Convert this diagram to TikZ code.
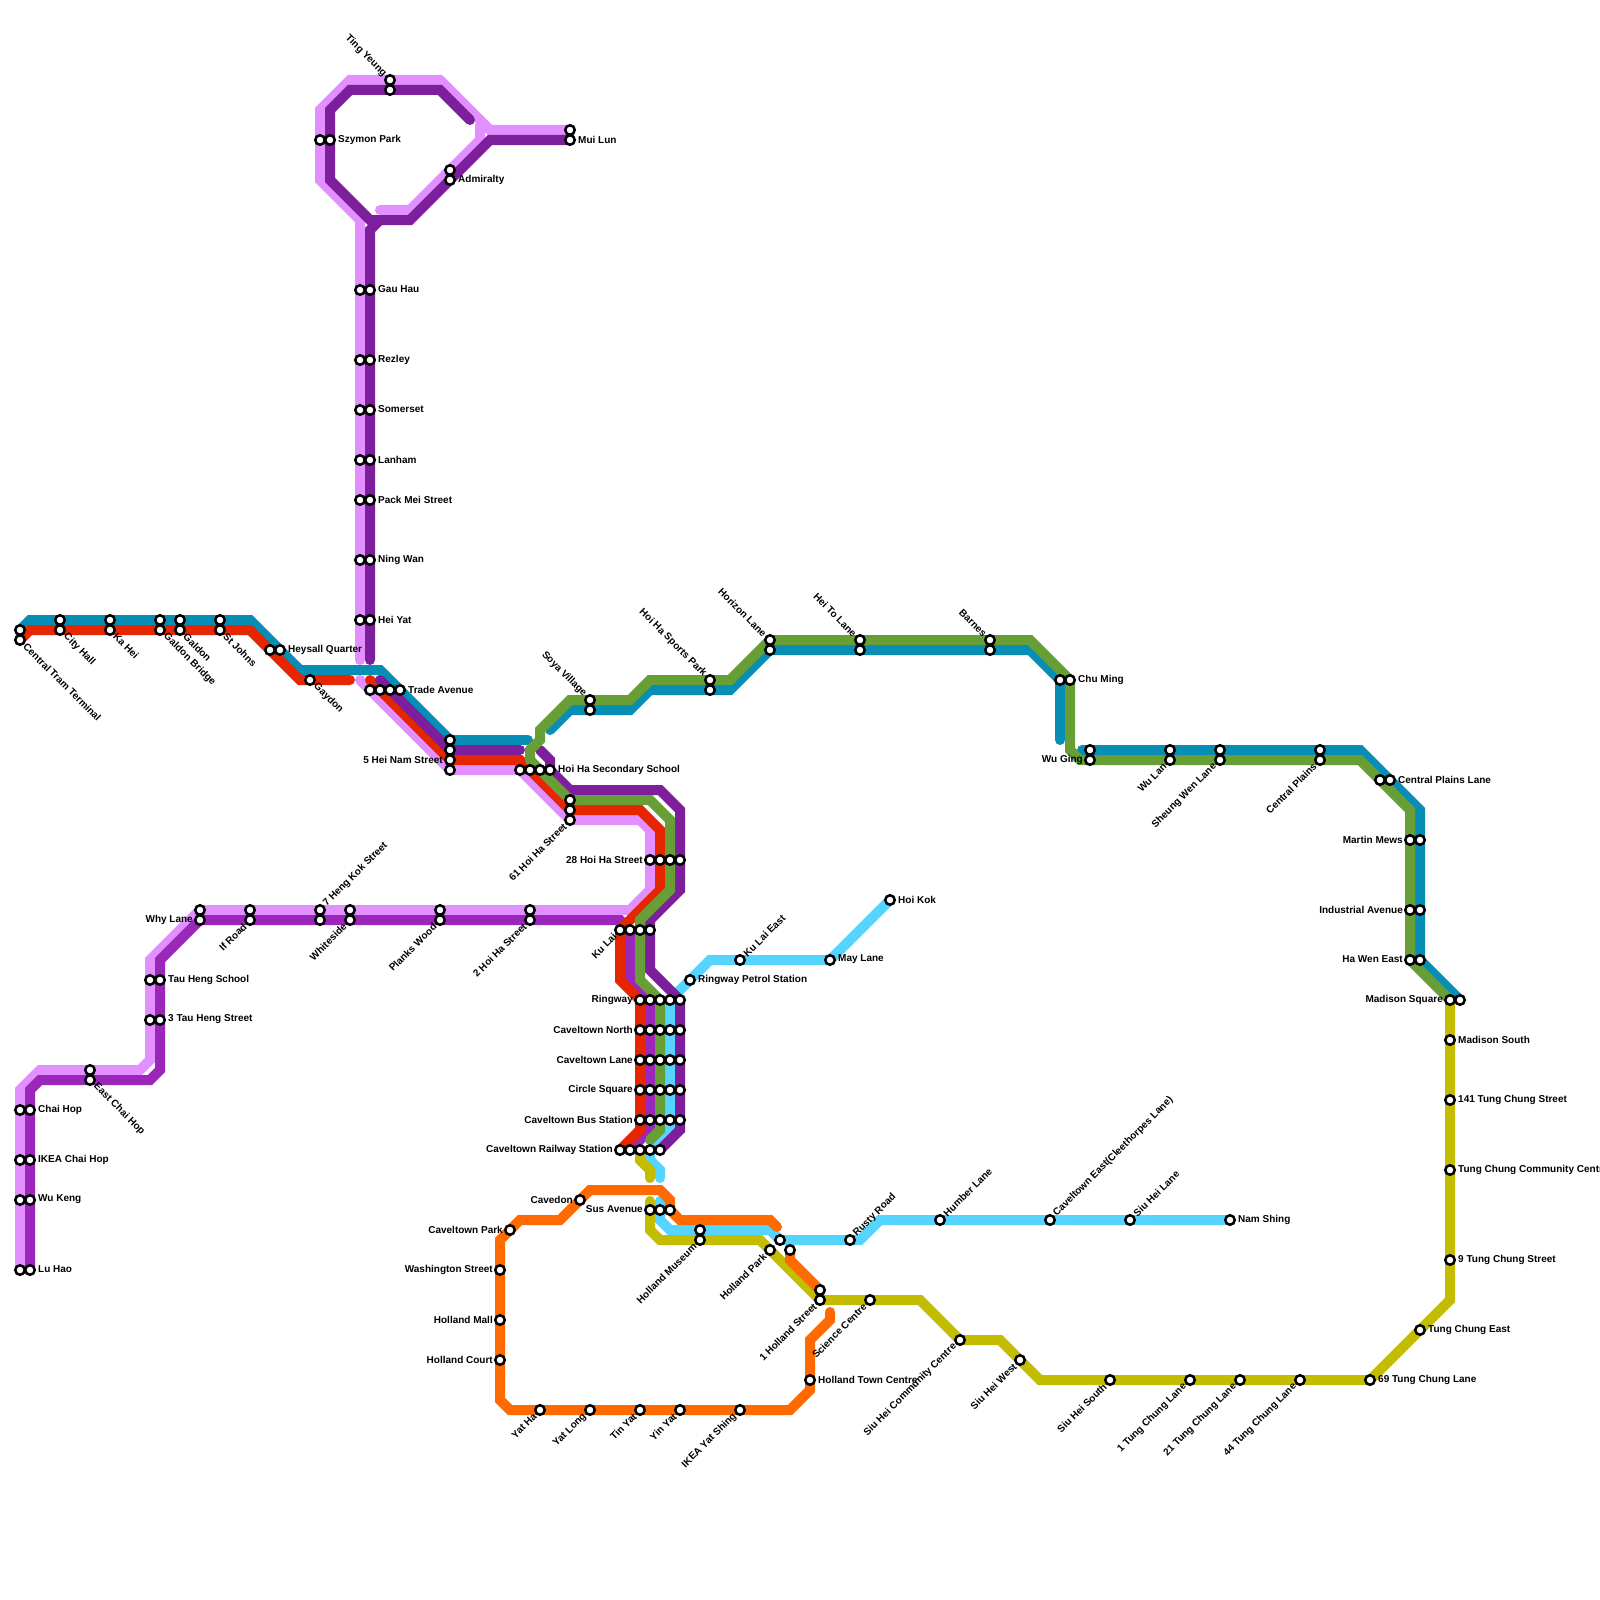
\documentclass[tikz,border=0pt]{standalone}
\usepackage{fontspec}
\setmainfont{Liberation Sans}
\definecolor{lineteal}{HTML}{088DB5}
\definecolor{linered}{HTML}{E62600}
\definecolor{linepink}{HTML}{E290FF}
\definecolor{linedark}{HTML}{7D1F9C}
\definecolor{linemid}{HTML}{9A27BA}
\definecolor{linegreen}{HTML}{679E36}
\definecolor{linecyan}{HTML}{55D4FF}
\definecolor{lineolive}{HTML}{C4BC00}
\definecolor{lineorange}{HTML}{FF6A00}

\begin{document}
\begin{tikzpicture}[x=1pt,y=-1pt,font=\fontsize{10}{11}\selectfont\bfseries,
    rail/.style={line width=10pt,line cap=round},
    stn/.style={circle,draw=black,fill=white,line width=2.5pt,minimum size=9.5pt,inner sep=0pt},
    lbr/.style={anchor=west,inner sep=0pt,xshift=8pt,yshift=0.5pt},
    lbl/.style={anchor=east,inner sep=0pt,xshift=-7pt,yshift=0.5pt},
    ldr/.style={anchor=west,inner sep=0pt,xshift=5pt,yshift=-5pt,rotate=-45},
    lul/.style={anchor=east,inner sep=0pt,xshift=-5pt,yshift=5pt,rotate=-45},
    lur/.style={anchor=west,inner sep=0pt,xshift=5pt,yshift=5pt,rotate=45},
    ldl/.style={anchor=east,inner sep=0pt,xshift=-5pt,yshift=-5pt,rotate=45}]
    \useasboundingbox (0,0) rectangle (1600,1600);

    % teal
    \draw[rail,lineteal] (20,630) -- (30,620) -- (250,620) -- (300,670) -- (380,670) -- (450,740) -- (528,740);
    \draw[rail,lineteal] (550,730) -- (570,710) -- (630,710) -- (650,690) -- (730,690) -- (770,650) -- (1030,650) -- (1060,680) -- (1060,740);
    \draw[rail,lineteal] (1082,750) -- (1360,750) -- (1420,810) -- (1420,960) -- (1460,1000);

    % light pink
    \draw[rail,linepink] (360,660) -- (360,220) -- (320,180) -- (320,110) -- (350,80) -- (440,80) -- (490,130) -- (570,130);
    \draw[rail,linepink] (380,210) -- (410,210) -- (480,140) -- (480,125);
    \draw[rail,linepink] (360,680) -- (450,770) -- (520,770) -- (570,820) -- (640,820) -- (650,830) -- (650,890) -- (630,910)
      -- (200,910) -- (150,960) -- (150,1060) -- (140,1070) -- (40,1070) -- (20,1090) -- (20,1270);

    % cyan
    \draw[rail,linecyan] (890,900) -- (830,960) -- (710,960) -- (670,1000) -- (670,1130) -- (650,1150) -- (650,1160) -- (660,1170) -- (660,1178);
    \draw[rail,linecyan] (660,1201) -- (660,1220) -- (670,1230) -- (770,1230) -- (780,1240) -- (860,1240) -- (880,1220) -- (1230,1220);

    % mid purple
    \draw[rail,linemid] (30,1270) -- (30,1090) -- (40,1080) -- (150,1080) -- (160,1070) -- (160,960) -- (200,920) -- (620,920)
      -- (630,930) -- (630,980) -- (650,1000) -- (650,1130) -- (630,1150);

    % red
    \draw[rail,linered] (20,640) -- (30,630) -- (250,630) -- (300,680) -- (350,680);
    \draw[rail,linered] (370,680) -- (450,760) -- (520,760) -- (570,810) -- (640,810) -- (660,830) -- (660,890) -- (620,930)
      -- (620,980) -- (640,1000) -- (640,1130) -- (620,1150);

    % dark purple
    \draw[rail,linedark] (470,120) -- (440,90) -- (350,90) -- (330,110) -- (330,180) -- (370,220) -- (410,220) -- (490,140) -- (570,140);
    \draw[rail,linedark] (370,660) -- (370,230) -- (380,220);
    \draw[rail,linedark] (380,680) -- (450,750) -- (520,750);
    \draw[rail,linedark] (540,750) -- (550,760) -- (550,770) -- (570,790) -- (660,790) -- (680,810) -- (680,890) -- (650,920)
      -- (650,970) -- (680,1000) -- (680,1130) -- (660,1150);

    % green
    \draw[rail,linegreen] (530,760) -- (530,750) -- (540,740) -- (540,730) -- (570,700) -- (630,700) -- (650,680) -- (730,680)
      -- (770,640) -- (1030,640) -- (1070,680) -- (1070,750) -- (1080,760) -- (1360,760) -- (1410,810) -- (1410,960) -- (1450,1000);
    \draw[rail,linegreen] (530,760) -- (570,800) -- (650,800) -- (670,820) -- (670,890) -- (640,920) -- (640,980) -- (660,1000)
      -- (660,1130) -- (650,1140);

    % olive
    \draw[rail,lineolive] (640,1150) -- (640,1160) -- (650,1170) -- (650,1178);
    \draw[rail,lineolive] (650,1201) -- (650,1230) -- (660,1240) -- (760,1240) -- (820,1300) -- (920,1300) -- (960,1340) -- (1000,1340)
      -- (1040,1380) -- (1370,1380) -- (1450,1300) -- (1450,1005);

    % orange
    \draw[rail,lineorange] (777,1227) -- (770,1220) -- (680,1220) -- (670,1210) -- (670,1200) -- (660,1190) -- (590,1190) -- (560,1220)
      -- (520,1220) -- (500,1240) -- (500,1400) -- (510,1410) -- (790,1410) -- (810,1390) -- (810,1340) -- (830,1320) -- (830,1312);
    \draw[rail,lineorange] (790,1250) -- (790,1260) -- (820,1290);

    % stations
    \foreach \x/\y in {20/630,20/640,60/620,60/630,110/620,110/630,160/620,160/630,180/620,180/630,220/620,220/630,
      270/650,280/650,310/680,370/690,380/690,390/690,400/690,450/740,450/750,450/760,450/770,
      520/770,530/770,540/770,550/770,570/800,570/810,570/820,650/860,660/860,670/860,680/860,
      390/80,390/90,320/140,330/140,450/170,450/180,570/130,570/140,
      200/910,200/920,250/910,250/920,320/910,320/920,350/910,350/920,440/910,440/920,530/910,530/920,
      620/930,630/930,640/930,650/930,150/980,160/980,150/1020,160/1020,90/1070,90/1080,
      590/700,590/710,710/680,710/690,770/640,770/650,860/640,860/650,990/640,990/650,
      1060/680,1070/680,1090/750,1090/760,1170/750,1170/760,1220/750,1220/760,1320/750,1320/760,
      1380/780,1390/780,1410/840,1420/840,1410/910,1420/910,1410/960,1420/960,1450/1000,1460/1000,
      690/980,740/960,830/960,890/900,620/1150,630/1150,640/1150,650/1150,660/1150,
      580/1200,650/1210,660/1210,670/1210,510/1230,500/1270,500/1320,500/1360,
      540/1410,590/1410,640/1410,680/1410,740/1410,810/1380,700/1230,700/1240,770/1250,780/1240,790/1250,
      820/1290,820/1300,870/1300,850/1240,940/1220,1050/1220,1130/1220,1230/1220,
      960/1340,1020/1360,1110/1380,1190/1380,1240/1380,1300/1380,1370/1380,1420/1330,
      1450/1040,1450/1100,1450/1170,1450/1260}
      \node[stn] (s\x-\y) at (\x,\y) {};
    \foreach \y in {290,360,410,460,500,560,620}
      \foreach \x in {360,370}
        \node[stn] (s\x-\y) at (\x,\y) {};
    \foreach \y in {1110,1160,1200,1270}
      \foreach \x in {20,30}
        \node[stn] (s\x-\y) at (\x,\y) {};
    \foreach \y in {1000,1030,1060,1090,1120}
      \foreach \x in {640,650,660,670,680}
        \node[stn] (s\x-\y) at (\x,\y) {};

    % labels to the right
    \foreach \x/\y/\lab in {280/650/Heysall Quarter,400/690/Trade Avenue,550/770/Hoi Ha Secondary School,
      330/140/Szymon Park,450/180/Admiralty,570/140/Mui Lun,370/290/Gau Hau,370/360/Rezley,370/410/Somerset,
      370/460/Lanham,370/500/Pack Mei Street,370/560/Ning Wan,370/620/Hei Yat,160/980/Tau Heng School,
      160/1020/3 Tau Heng Street,30/1110/Chai Hop,30/1160/IKEA Chai Hop,30/1200/Wu Keng,30/1270/Lu Hao,
      1070/680/Chu Ming,1390/780/Central Plains Lane,690/980/Ringway Petrol Station,830/960/May Lane,890/900/Hoi Kok,
      1230/1220/Nam Shing,810/1380/Holland Town Centre,1450/1040/Madison South,1450/1100/141 Tung Chung Street,
      1450/1170/Tung Chung Community Centre,1450/1260/9 Tung Chung Street,1420/1330/Tung Chung East,1370/1380/69 Tung Chung Lane}
      \node[lbr] (t\x-\y) at (s\x-\y) {\lab};

    % labels to the left
    \foreach \x/\y/\lab in {450/760/5 Hei Nam Street,200/920/Why Lane,650/860/28 Hoi Ha Street,640/1000/Ringway,
      640/1030/Caveltown North,640/1060/Caveltown Lane,640/1090/Circle Square,640/1120/Caveltown Bus Station,
      620/1150/Caveltown Railway Station,580/1200/Cavedon,650/1210/Sus Avenue,510/1230/Caveltown Park,
      500/1270/Washington Street,500/1320/Holland Mall,500/1360/Holland Court,1090/760/Wu Ging,1410/840/Martin Mews,
      1410/910/Industrial Avenue,1410/960/Ha Wen East,1450/1000/Madison Square}
      \node[lbl] (t\x-\y) at (s\x-\y) {\lab};

    % slanted labels
    \foreach \x/\y/\lab in {20/640/Central Tram Terminal,60/630/City Hall,110/630/Ka Hei,160/630/Galdon Bridge,
      180/630/Galdon,220/630/St Johns,310/680/Gaydon,90/1080/East Chai Hop}
      \node[ldr] (t\x-\y) at (s\x-\y) {\lab};
    \foreach \x/\y/\lab in {390/80/Ting Yeung,590/700/Soya Village,710/680/Hoi Ha Sports Park,770/640/Horizon Lane,
      860/640/Hei To Lane,990/640/Barnes}
      \node[lul] (t\x-\y) at (s\x-\y) {\lab};
    \foreach \x/\y/\lab in {320/910/7 Heng Kok Street,740/960/Ku Lai East,850/1240/Rusty Road,940/1220/Humber Lane,
      1050/1220/Caveltown East(Cleethorpes Lane),1130/1220/Siu Hei Lane}
      \node[lur] (t\x-\y) at (s\x-\y) {\lab};
    \foreach \x/\y/\lab in {250/920/If Road,350/920/Whiteside,440/920/Planks Wood,530/920/2 Hoi Ha Street,620/930/Ku Lai,
      570/820/61 Hoi Ha Street,1170/760/Wu Lan,1220/760/Sheung Wen Lane,1320/760/Central Plains,700/1240/Holland Museum,
      770/1250/Holland Park,820/1300/1 Holland Street,870/1300/Science Centre,960/1340/Siu Hei Community Centre,
      1020/1360/Siu Hei West,1110/1380/Siu Hei South,1190/1380/1 Tung Chung Lane,1240/1380/21 Tung Chung Lane,
      1300/1380/44 Tung Chung Lane,540/1410/Yat Ha,590/1410/Yat Long,640/1410/Tin Yat,680/1410/Yin Yat,740/1410/IKEA Yat Shing}
      \node[ldl] (t\x-\y) at (s\x-\y) {\lab};
  \end{tikzpicture}
\end{document}
